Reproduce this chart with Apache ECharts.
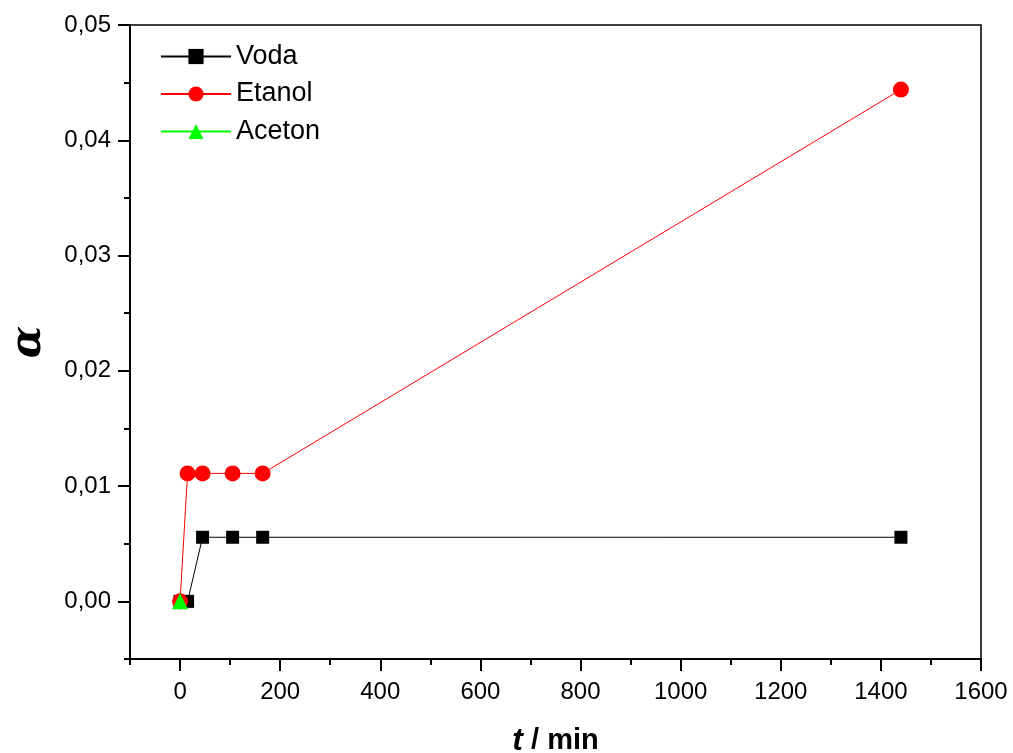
<!DOCTYPE html>
<html>
<head>
<meta charset="utf-8">
<script src="https://cdn.jsdelivr.net/npm/echarts@6/dist/echarts.min.js"></script>
<style>
html,body{margin:0;padding:0;background:#fff;}
#c{width:1013px;height:753px;}
</style>
</head>
<body>
<div id="c"></div>
<script>
// Data
const vodaT = [0, 15, 45, 105, 165, 1440];
const vodaA = [0, 0, 0.00556, 0.00556, 0.00556, 0.00556];
const etanolT = [0, 15, 45, 105, 165, 1440];
const etanolA = [0, 0.0111, 0.0111, 0.0111, 0.0111, 0.0444];
const acetonT = [0];
const acetonA = [0];
const xMajor = [0, 200, 400, 600, 800, 1000, 1200, 1400, 1600];
const xMinor = [-100, 100, 300, 500, 700, 900, 1100, 1300, 1500];
const yMajor = [0, 0.01, 0.02, 0.03, 0.04, 0.05];
const yMinor = [-0.005, 0.005, 0.015, 0.025, 0.035, 0.045];

const zip = (a, b) => a.map((v, i) => [v, b[i]]);
const FONT = '"Liberation Sans", Arial, sans-serif';

const chart = echarts.init(document.getElementById('c'), null, {renderer: 'canvas'});
const axisLineStyle = {color: '#000', width: 2};

chart.setOption({
  animation: false,
  backgroundColor: '#fff',
  textStyle: {fontFamily: FONT},
  grid: {left: 130, right: 32, top: 25, bottom: 94, show: true, borderColor: '#000', borderWidth: 1.5,
    containLabel: false, outerBoundsMode: 'none'},
  legend: {
    orient: 'vertical', left: 155, top: 38,
    itemWidth: 70, itemHeight: 19, itemGap: 10.5,
    textStyle: {fontSize: 27, color: '#000', fontFamily: FONT},
    data: ['Voda', 'Etanol', 'Aceton']
  },
  xAxis: [{
    type: 'value', min: -100, max: 1600, interval: 100,
    name: '{t|t}{m| / min}', nameLocation: 'middle', nameGap: 66,
    nameTextStyle: {rich: {
      t: {fontSize: 32, fontWeight: 'bold', fontStyle: 'italic', fontFamily: FONT, color: '#000'},
      m: {fontSize: 29, fontWeight: 'bold', fontFamily: FONT, color: '#000'}
    }},
    axisLine: {show: true, lineStyle: axisLineStyle, onZero: false},
    axisTick: {show: true, inside: false, length: 12, customValues: xMajor, lineStyle: {color: '#000', width: 2}},
    axisLabel: {show: true, customValues: xMajor, fontSize: 24, color: '#000', margin: 21, fontFamily: FONT,
      formatter: v => String(Math.round(v))},
    splitLine: {show: false}
  }, {
    type: 'value', min: -100, max: 1600, interval: 100, position: 'bottom',
    axisLine: {show: false, onZero: false},
    axisTick: {show: true, inside: false, length: 6, customValues: xMinor, lineStyle: {color: '#000', width: 2}},
    axisLabel: {show: false},
    splitLine: {show: false}
  }],
  yAxis: [{
    type: 'value', min: -0.005, max: 0.05, interval: 0.005,
    name: 'α', nameLocation: 'middle', nameGap: 80, nameRotate: 90,
    nameTextStyle: {fontSize: 42, fontWeight: 'bold', fontStyle: 'italic', fontFamily: '"DejaVu Serif", serif', color: '#000'},
    axisLine: {show: true, lineStyle: axisLineStyle, onZero: false},
    axisTick: {show: true, inside: false, length: 12, customValues: yMajor, lineStyle: {color: '#000', width: 2}},
    axisLabel: {show: true, customValues: yMajor, fontSize: 24, color: '#000', margin: 19, fontFamily: FONT,
      formatter: v => v.toFixed(2).replace('.', ',')},
    splitLine: {show: false}
  }, {
    type: 'value', min: -0.005, max: 0.05, interval: 0.005, position: 'left',
    axisLine: {show: false, onZero: false},
    axisTick: {show: true, inside: false, length: 6, customValues: yMinor, lineStyle: {color: '#000', width: 2}},
    axisLabel: {show: false},
    splitLine: {show: false}
  }],
  series: [{
    name: 'Voda', type: 'line', data: zip(vodaT, vodaA),
    symbol: 'rect', symbolSize: 13, showAllSymbol: true,
    itemStyle: {color: '#000'}, lineStyle: {color: '#000', width: 1}, z: 2
  }, {
    name: 'Etanol', type: 'line', data: zip(etanolT, etanolA),
    symbol: 'circle', symbolSize: 16, showAllSymbol: true,
    itemStyle: {color: '#ff0000'}, lineStyle: {color: '#ff0000', width: 1}, z: 3
  }, {
    name: 'Aceton', type: 'line', data: zip(acetonT, acetonA),
    symbol: 'triangle', symbolSize: 16, showAllSymbol: true,
    itemStyle: {color: '#00ff00'}, lineStyle: {color: '#00ff00', width: 1}, z: 4
  }]
});
</script>
</body>
</html>
